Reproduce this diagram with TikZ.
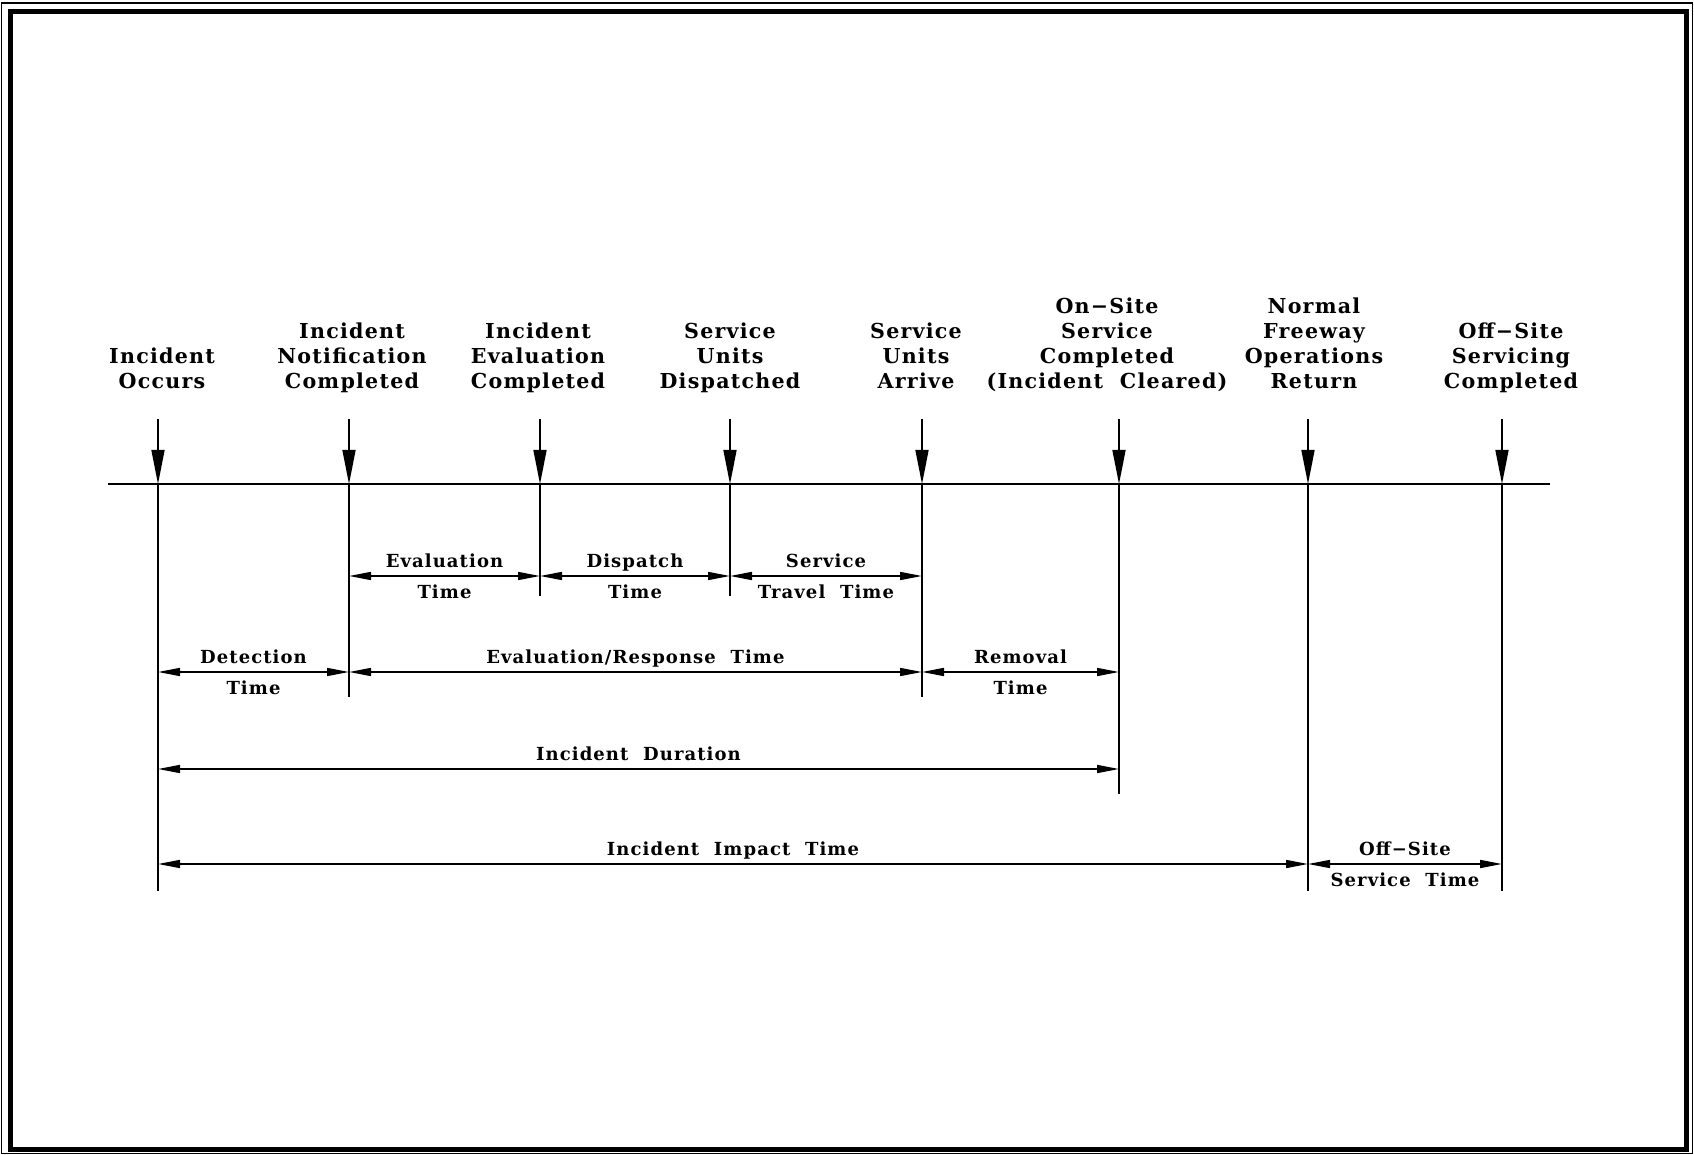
\documentclass[tikz,border=0pt]{standalone}
\usepackage{fontspec}
\setmainfont{DejaVu Serif}[LetterSpace=6]
\usetikzlibrary{arrows.meta}

\newcommand{\evtfont}{\bfseries\fontsize{10.3}{12.5}\selectfont}
\newcommand{\lblfont}{\bfseries\fontsize{9}{11}\selectfont}

\begin{document}
\begin{tikzpicture}[x=0.5pt,y=-0.5pt,
    evt/.style={align=center,anchor=south,inner sep=0pt,text depth=0pt,font=\evtfont},
    lbl/.style={inner sep=0pt,text height=7pt,text depth=2pt,font=\lblfont},
    drop/.style={-{Triangle[length=17pt,width=6.5pt]},line width=0.8pt},
    dim/.style={{Triangle[length=11pt,width=4pt]}-{Triangle[length=11pt,width=4pt]},line width=0.8pt}]
        \useasboundingbox (0,0) rectangle (1694,1155);
        % frame
        \draw[line width=0.8pt] (1.5,3) rectangle (1692.5,1153.5);
        \draw[line width=2.5pt] (10.5,12) rectangle (1686.5,1149);

        % events on the time line
        \coordinate (tlstart) at (108,484);
        \coordinate (tlend) at (1550,484);
        \coordinate (occ) at (158,484);
        \coordinate (notif) at (349,484);
        \coordinate (eval) at (540,484);
        \coordinate (disp) at (730,484);
        \coordinate (arr) at (922,484);
        \coordinate (clr) at (1119,484);
        \coordinate (norm) at (1308,484);
        \coordinate (off) at (1502,484);
        \draw[line width=1pt] (tlstart) -- (tlend);

        \node[evt] (occlbl) at (162,389) {Incident\\Occurs};
        \node[evt] (notiflbl) at (352,389) {Incident\\Notification\\Completed};
        \node[evt] (evallbl) at (538,389) {Incident\\Evaluation\\Completed};
        \node[evt] (displbl) at (730,389) {Service\\Units\\Dispatched};
        \node[evt] (arrlbl) at (916,389) {Service\\Units\\Arrive};
        \node[evt] (clrlbl) at (1107,389) {On−Site\\Service\\Completed\\(Incident~~Cleared)};
        \node[evt] (normlbl) at (1314,389) {Normal\\Freeway\\Operations\\Return};
        \node[evt] (offlbl) at (1511,389) {Off−Site\\Servicing\\Completed};

        \draw[drop] (occ) ++(0,-65) -- (occ);
        \draw[drop] (notif) ++(0,-65) -- (notif);
        \draw[drop] (eval) ++(0,-65) -- (eval);
        \draw[drop] (disp) ++(0,-65) -- (disp);
        \draw[drop] (arr) ++(0,-65) -- (arr);
        \draw[drop] (clr) ++(0,-65) -- (clr);
        \draw[drop] (norm) ++(0,-65) -- (norm);
        \draw[drop] (off) ++(0,-65) -- (off);

        \draw[line width=0.7pt] (occ) -- ++(0,407);
        \draw[line width=0.7pt] (notif) -- ++(0,213);
        \draw[line width=0.7pt] (eval) -- ++(0,112);
        \draw[line width=0.7pt] (disp) -- ++(0,112);
        \draw[line width=0.7pt] (arr) -- ++(0,213);
        \draw[line width=0.7pt] (clr) -- ++(0,310);
        \draw[line width=0.7pt] (norm) -- ++(0,407);
        \draw[line width=0.7pt] (off) -- ++(0,407);

        % intervals
        \coordinate (r1) at (0,576);
        \coordinate (r2) at (0,672);
        \coordinate (r3) at (0,769);
        \coordinate (r4) at (0,864);
        \draw[dim] (notif |- r1) -- node[lbl,above=2pt] {Evaluation} node[lbl,below=4pt] {Time} (eval |- r1);
        \draw[dim] (eval |- r1) -- node[lbl,above=2pt] {Dispatch} node[lbl,below=4pt] {Time} (disp |- r1);
        \draw[dim] (disp |- r1) -- node[lbl,above=2pt] {Service} node[lbl,below=4pt] {Travel~~Time} (arr |- r1);
        \draw[dim] (occ |- r2) -- node[lbl,above=2pt] {Detection} node[lbl,below=4pt] {Time} (notif |- r2);
        \draw[dim] (notif |- r2) -- node[lbl,above=2pt] {Evaluation/Response~~Time} (arr |- r2);
        \draw[dim] (arr |- r2) -- node[lbl,above=2pt] {Removal} node[lbl,below=4pt] {Time} (clr |- r2);
        \draw[dim] (occ |- r3) -- node[lbl,above=2pt] {Incident~~Duration} (clr |- r3);
        \draw[dim] (occ |- r4) -- node[lbl,above=2pt] {Incident~~Impact~~Time} (norm |- r4);
        \draw[dim] (norm |- r4) -- node[lbl,above=2pt] {Off−Site} node[lbl,below=4pt] {Service~~Time} (off |- r4);
    \end{tikzpicture}
\end{document}
